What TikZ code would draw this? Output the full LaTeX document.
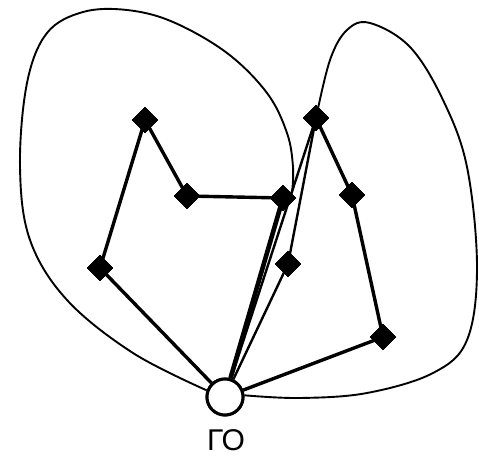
\documentclass[tikz,border=0pt]{standalone}
\usepackage{fontspec}
\setmainfont{Liberation Sans}
\usetikzlibrary{shapes.geometric}
\begin{document}
\begin{tikzpicture}[x=1pt,y=-1pt,
  pt/.style={diamond,fill=black,draw=black,inner sep=0pt,minimum width=26pt,minimum height=26pt},
  depot/.style={circle,draw=black,fill=white,line width=3pt,minimum size=36pt,inner sep=0pt},
  edge/.style={line width=3.4pt},
  thickedge/.style={line width=4.6pt},
  thinedge/.style={line width=2.4pt},
  loopline/.style={line width=1.9pt}]
\useasboundingbox (0,0) rectangle (479,462);
% nodes
\node[depot] (go) at (225,397) {};
\node[pt] (a) at (145,120) {};
\node[pt] (b) at (187,196) {};
\node[pt] (c) at (283,198) {};
\node[pt] (d) at (100,268) {};
\node[pt] (e) at (316,118) {};
\node[pt] (f) at (352,195) {};
\node[pt] (g) at (288,264) {};
\node[pt] (h) at (383,337) {};
\node[font=\fontsize{30}{34}\selectfont] (lbl) at (226,440) {ГО};
% loops
\draw[loopline] plot[smooth,tension=0.6] coordinates {(go.160) (133,353) (67,300) (30,240) (20,167) (27,83) (47,33) (83,12) (127,10) (173,22) (227,53) (267,93) (287,133) (293,167) (292,193)};
\draw[loopline] plot[smooth,tension=0.6] coordinates {(go.5) (300,398) (367,393) (433,373) (467,340) (477,267) (467,167) (443,100) (410,47) (370,23) (347,30) (330,60) (e.center)};
% edges
\draw[edge] (go) -- (d.center) -- (a.center) -- (b.center) -- (c.center);
\draw[thickedge] (c.center) -- (go);
\draw[thinedge] (go) -- (e.center);
\draw[thinedge] (go) -- (g.center) -- (e.center);
\draw[edge] (e.center) -- (f.center) -- (h.center) -- (go);
% redraw nodes on top
\foreach \n in {a,b,c,d,e,f,g,h}{\fill (\n.north) -- (\n.east) -- (\n.south) -- (\n.west) -- cycle;}
\node[depot] at (go) {};
\end{tikzpicture}
\end{document}
